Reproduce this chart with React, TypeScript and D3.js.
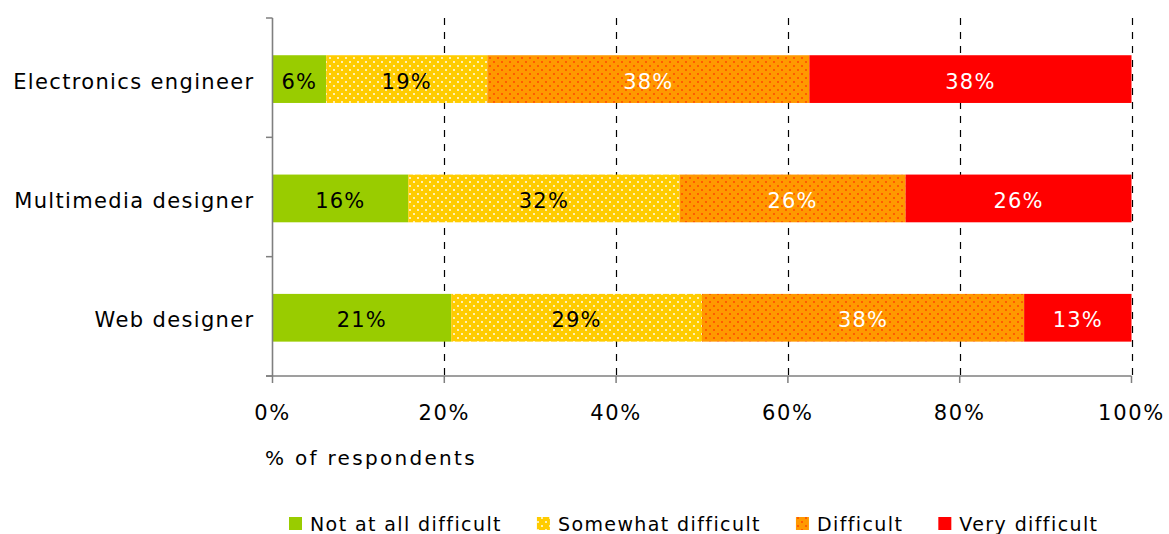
import React, { useEffect, useRef } from 'react';
import * as d3 from 'd3';

// Categories, top to bottom
const categories = ['Electronics engineer', 'Multimedia designer', 'Web designer'];
const seriesNames = ['Not at all difficult', 'Somewhat difficult', 'Difficult', 'Very difficult'];

// Share of respondents per category for each difficulty level
const notAtAll = [0.0625, 0.158, 0.208];
const somewhat = [0.1875, 0.316, 0.292];
const difficult = [0.375, 0.263, 0.375];
const veryDifficult = [0.375, 0.263, 0.125];

const xTicks = [0, 0.2, 0.4, 0.6, 0.8, 1];
const axisTitle = '% of respondents';

const W = 1169;
const H = 534;
const FONT = '"DejaVu Sans", Verdana, sans-serif';

export default function App() {
  const ref = useRef<SVGSVGElement>(null);

  useEffect(() => {
    const svg = d3.select(ref.current);
    svg.selectAll('*').remove();

    const left = 272.5;
    const right = 1131.5;
    const top = 18;
    const bottom = 376;

    const rows = categories.map((c, i) => ({
      category: c,
      [seriesNames[0]]: notAtAll[i],
      [seriesNames[1]]: somewhat[i],
      [seriesNames[2]]: difficult[i],
      [seriesNames[3]]: veryDifficult[i],
    }));

    const x = d3.scaleLinear().domain([0, 1]).range([left, right]);
    const slot = d3.scaleBand<string>().domain(categories).range([top, bottom]);
    const yBar = d3
      .scaleBand<string>()
      .domain(categories)
      .range([top, bottom])
      .paddingInner(0.6)
      .paddingOuter(0.3)
      .align(0.52);

    const fills = ['#99CC00', 'url(#dotYellow)', 'url(#dotOrange)', '#FF0000'];
    const textColors = ['#000', '#000', '#fff', '#fff'];

    // dotted fills
    const defs = svg.append('defs');
    const mkPattern = (id: string, bg: string, dot: string, op: number) => {
      const p = defs
        .append('pattern')
        .attr('id', id)
        .attr('patternUnits', 'userSpaceOnUse')
        .attr('width', 8)
        .attr('height', 8);
      p.append('rect').attr('width', 8).attr('height', 8).attr('fill', bg);
      [[0, 0], [4, 4]].forEach(([dx, dy]) => {
        p.append('rect')
          .attr('x', dx + 1)
          .attr('y', dy + 1)
          .attr('width', 2)
          .attr('height', 2)
          .attr('fill', dot)
          .attr('opacity', op);
      });
    };
    mkPattern('dotYellow', '#FFCC00', '#FFFFFF', 0.7);
    mkPattern('dotOrange', '#FF9900', '#FF3300', 0.6);

    // dashed vertical gridlines
    svg
      .append('g')
      .selectAll('line')
      .data(xTicks.filter((t) => t > 0))
      .join('line')
      .attr('x1', (d) => Math.round(x(d)) + 0.5)
      .attr('x2', (d) => Math.round(x(d)) + 0.5)
      .attr('y1', top)
      .attr('y2', bottom)
      .attr('stroke', '#000')
      .attr('stroke-width', 1.2)
      .attr('stroke-dasharray', '7,7');

    // stacked bars
    const stack = d3.stack<any>().keys(seriesNames);
    const layers = stack(rows);
    const fmt = d3.format('.0%');

    const g = svg.append('g');
    layers.forEach((layer, li) => {
      g.append('g')
        .selectAll('rect')
        .data(layer)
        .join('rect')
        .attr('x', (d) => x(d[0]))
        .attr('width', (d) => x(d[1]) - x(d[0]))
        .attr('y', (d) => yBar(d.data.category)!)
        .attr('height', yBar.bandwidth())
        .attr('fill', fills[li]);
    });
    layers.forEach((layer, li) => {
      g.append('g')
        .selectAll('text')
        .data(layer)
        .join('text')
        .attr('x', (d) => (x(d[0]) + x(d[1])) / 2)
        .attr('y', (d) => yBar(d.data.category)! + yBar.bandwidth() / 2)
        .attr('dy', '0.45em')
        .attr('text-anchor', 'middle')
        .attr('font-family', FONT)
        .attr('font-size', 21)
        .attr('letter-spacing', 1.2)
        .attr('fill', textColors[li])
        .text((d) => fmt(d[1] - d[0]));
    });

    const axisColor = '#7f7f7f';
    // category axis
    svg
      .append('line')
      .attr('x1', left)
      .attr('x2', left)
      .attr('y1', top)
      .attr('y2', bottom)
      .attr('stroke', axisColor)
      .attr('stroke-width', 1.6);
    const boundaries = [...categories.map((c) => slot(c)!), bottom];
    svg
      .append('g')
      .selectAll('line')
      .data(boundaries)
      .join('line')
      .attr('x1', left - 6.5)
      .attr('x2', left)
      .attr('y1', (d) => d)
      .attr('y2', (d) => d)
      .attr('stroke', axisColor)
      .attr('stroke-width', 1.5);
    svg
      .append('g')
      .selectAll('text')
      .data(categories)
      .join('text')
      .attr('x', left - 18)
      .attr('y', (d) => yBar(d)! + yBar.bandwidth() / 2)
      .attr('dy', '0.45em')
      .attr('text-anchor', 'end')
      .attr('font-family', FONT)
      .attr('font-size', 21)
      .attr('letter-spacing', 1.35)
      .attr('fill', '#000')
      .text((d) => d);

    // value axis
    svg
      .append('line')
      .attr('x1', left - 6.5)
      .attr('x2', right)
      .attr('y1', bottom)
      .attr('y2', bottom)
      .attr('stroke', axisColor)
      .attr('stroke-width', 1.6);
    svg
      .append('g')
      .selectAll('line')
      .data(xTicks)
      .join('line')
      .attr('x1', (d) => x(d))
      .attr('x2', (d) => x(d))
      .attr('y1', bottom)
      .attr('y2', bottom + 7)
      .attr('stroke', axisColor)
      .attr('stroke-width', 1.5);
    svg
      .append('g')
      .selectAll('text')
      .data(xTicks)
      .join('text')
      .attr('x', (d) => x(d))
      .attr('y', bottom + 44)
      .attr('text-anchor', 'middle')
      .attr('font-family', FONT)
      .attr('font-size', 21)
      .attr('letter-spacing', 1.7)
      .attr('fill', '#000')
      .text((d) => d3.format('.0%')(d));

    svg
      .append('text')
      .attr('x', 265)
      .attr('y', 465)
      .attr('font-family', FONT)
      .attr('font-size', 20)
      .attr('letter-spacing', 2.3)
      .attr('fill', '#000')
      .text(axisTitle);

    // legend
    const legend = svg.append('g');
    let lx = 289;
    const ly = 530.5;
    seriesNames.forEach((name, i) => {
      legend
        .append('rect')
        .attr('x', lx)
        .attr('y', ly - 13.5)
        .attr('width', 13)
        .attr('height', 13)
        .attr('fill', fills[i]);
      const t = legend
        .append('text')
        .attr('x', lx + 21)
        .attr('y', ly)
        .attr('font-family', FONT)
        .attr('font-size', 19)
        .attr('letter-spacing', 1.4)
        .attr('fill', '#000')
        .text(name);
      const w = (t.node() as SVGTextElement).getComputedTextLength();
      lx = lx + 21 + w + 35;
    });
  }, []);

  return (
    <svg
      ref={ref}
      width={W}
      height={H}
      style={{ position: 'absolute', left: 0, top: 0, background: '#fff' }}
    />
  );
}
